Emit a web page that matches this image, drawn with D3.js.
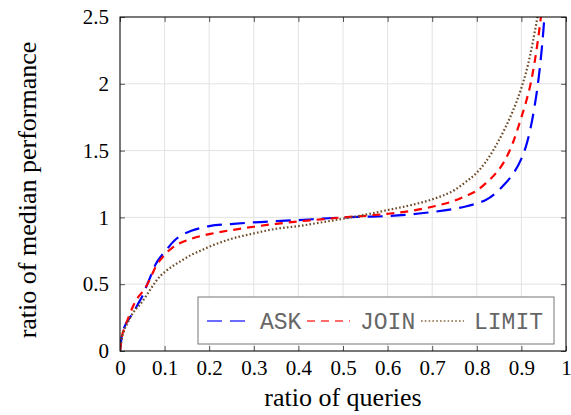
<!DOCTYPE html>
<html>
<head>
<meta charset="utf-8">
<script src="https://cdn.jsdelivr.net/npm/d3@7"></script>
<style>
  body { margin: 0; background: #fff; }
  text { font-family: "Liberation Serif", "Times New Roman", serif; }
</style>
</head>
<body>
<div id="chart"></div>
<script>
// data
var ratios = [0, 0.005, 0.01, 0.02, 0.03, 0.04, 0.05, 0.06, 0.07, 0.08, 0.09, 0.1, 0.12, 0.14, 0.16, 0.18, 0.2,
  0.25, 0.3, 0.35, 0.4, 0.45, 0.5, 0.55, 0.6, 0.65, 0.7, 0.75, 0.775, 0.8, 0.82, 0.84, 0.86, 0.88, 0.9, 0.91, 0.92,
  0.93, 0.94, 0.95, 0.96]
var askValues = [0, 0.13, 0.18, 0.24, 0.29, 0.35, 0.41, 0.49, 0.57, 0.65, 0.70, 0.74, 0.82, 0.87, 0.90, 0.92, 0.935,
  0.95, 0.963, 0.972, 0.98, 0.99, 1.0, 1.005, 1.01, 1.022, 1.04, 1.065, 1.082, 1.105, 1.13, 1.175, 1.24, 1.32, 1.44, 1.53, 1.66,
  1.84, 2.08, 2.43, 2.95]
var joinValues = [0, 0.12, 0.17, 0.26, 0.34, 0.40, 0.44, 0.49, 0.56, 0.63, 0.68, 0.72, 0.78, 0.815, 0.84, 0.86, 0.875,
  0.905, 0.93, 0.952, 0.97, 0.985, 1.0, 1.012, 1.027, 1.047, 1.08, 1.125, 1.16, 1.2, 1.255, 1.32, 1.41, 1.55, 1.75, 1.86, 1.99,
  2.17, 2.4, 2.68, 3.0]
var limitValues = [0, 0.11, 0.16, 0.23, 0.29, 0.33, 0.37, 0.42, 0.47, 0.52, 0.56, 0.59, 0.64, 0.68, 0.72, 0.75, 0.78,
  0.84, 0.88, 0.915, 0.935, 0.962, 0.99, 1.02, 1.055, 1.09, 1.135, 1.205, 1.265, 1.335, 1.415, 1.52, 1.645, 1.79, 1.97, 2.08, 2.22,
  2.39, 2.58, 2.8, 3.05]
var seriesNames = ["ASK", "JOIN", "LIMIT"]
var xTicks = [0, 0.1, 0.2, 0.3, 0.4, 0.5, 0.6, 0.7, 0.8, 0.9, 1]
var yTicks = [0, 0.5, 1, 1.5, 2, 2.5]

var width = 571
var height = 415
var margin = {top: 17, right: 5, bottom: 64, left: 120}
var w = width - margin.left - margin.right
var h = height - margin.top - margin.bottom

var svg = d3.select("#chart")
  .append("svg")
    .attr("width", width)
    .attr("height", height)

var g = svg.append("g")
    .attr("transform", "translate(" + margin.left + "," + margin.top + ")")

var x = d3.scaleLinear().domain([0, 1]).range([0, w])
var y = d3.scaleLinear().domain([0, 2.5]).range([h, 0])

// grid
g.selectAll(".gx")
  .data(xTicks)
  .enter()
  .append("line")
    .attr("x1", function(d){ return x(d) })
    .attr("x2", function(d){ return x(d) })
    .attr("y1", 0)
    .attr("y2", h)
    .attr("stroke", "#e3e3e3")
g.selectAll(".gy")
  .data(yTicks)
  .enter()
  .append("line")
    .attr("x1", 0)
    .attr("x2", w)
    .attr("y1", function(d){ return y(d) })
    .attr("y2", function(d){ return y(d) })
    .attr("stroke", "#e3e3e3")

// ticks inside on every side
function axisStyle(sel) {
  sel.select(".domain").remove()
  sel.selectAll(".tick line").attr("stroke", "#555")
  sel.selectAll("text").style("font-size", "21px").attr("fill", "#000")
}
g.append("g")
    .attr("transform", "translate(0," + h + ")")
    .call(d3.axisBottom(x).tickValues(xTicks).tickSizeInner(-5).tickSizeOuter(0).tickPadding(9)
      .tickFormat(function(d){ return d === 0 || d === 1 ? d3.format("d")(d) : d3.format(".1f")(d) }))
    .call(axisStyle)
g.append("g")
    .call(d3.axisTop(x).tickValues(xTicks).tickSizeInner(-5).tickSizeOuter(0).tickFormat(""))
    .call(axisStyle)
g.append("g")
    .call(d3.axisLeft(y).tickValues(yTicks).tickSizeInner(-5).tickSizeOuter(0).tickPadding(11)
      .tickFormat(function(d){ return String(d) }))
    .call(axisStyle)
g.append("g")
    .attr("transform", "translate(" + w + ",0)")
    .call(d3.axisRight(y).tickValues(yTicks).tickSizeInner(-5).tickSizeOuter(0).tickFormat(""))
    .call(axisStyle)

// curves
g.append("clipPath")
    .attr("id", "clip")
  .append("rect")
    .attr("width", w)
    .attr("height", h)

var styles = [
  {color: "#0000ff", dash: "15,8", legendColor: "#6c6cff"},
  {color: "#ff0000", dash: "8,6", legendColor: "#ff6c6c"},
  {color: "#6e4b28", dash: "1.6,2.2", legendColor: "#a88a6c"}
]
var allValues = [askValues, joinValues, limitValues]

var line = d3.line()
  .x(function(d, i){ return x(ratios[i]) })
  .y(function(d){ return y(d) })
  .curve(d3.curveMonotoneX)

g.append("g")
    .attr("clip-path", "url(#clip)")
  .selectAll("path")
  .data(allValues)
  .enter()
  .append("path")
    .attr("d", line)
    .attr("fill", "none")
    .attr("stroke", function(d, i){ return styles[i].color })
    .attr("stroke-width", 2.2)
    .attr("stroke-dasharray", function(d, i){ return styles[i].dash })

// frame
g.append("rect")
    .attr("width", w)
    .attr("height", h)
    .attr("fill", "none")
    .attr("stroke", "#000")
    .attr("stroke-width", 1)

// legend
var legend = g.append("g")
    .attr("transform", "translate(" + (198 - margin.left) + "," + (297 - margin.top) + ")")
legend.append("rect")
    .attr("width", 356)
    .attr("height", 47)
    .attr("fill", "#fff")
    .attr("stroke", "#777")
var legendX = [9, 109, 223]
var legendItem = legend.selectAll(".item")
  .data(seriesNames)
  .enter()
  .append("g")
    .attr("transform", function(d, i){ return "translate(" + legendX[i] + ",24)" })
legendItem.append("line")
    .attr("x1", 0)
    .attr("x2", 43)
    .attr("stroke", function(d, i){ return styles[i].legendColor })
    .attr("stroke-width", 2.2)
    .attr("stroke-dasharray", function(d, i){ return styles[i].dash })
legendItem.append("text")
    .attr("x", 53)
    .attr("y", 8)
    .text(function(d){ return d })
    .style("font-family", "'Liberation Mono', 'DejaVu Sans Mono', monospace")
    .style("font-size", "23px")
    .attr("fill", "#666")

// axis titles
svg.append("text")
    .attr("x", margin.left + w / 2)
    .attr("y", 406)
    .attr("text-anchor", "middle")
    .style("font-size", "26px")
    .text("ratio of queries")
svg.append("text")
    .attr("transform", "translate(36,190) rotate(-90)")
    .attr("text-anchor", "middle")
    .style("font-size", "26px")
    .text("ratio of median performance")
</script>
</body>
</html>
